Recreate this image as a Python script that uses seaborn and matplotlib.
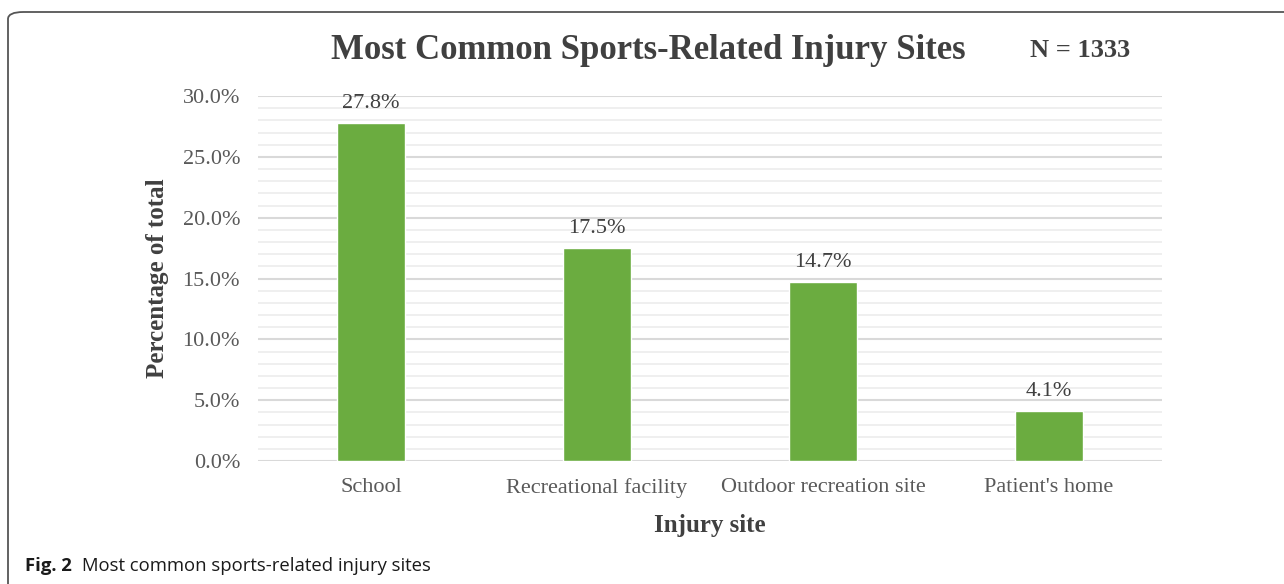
import numpy as np
import pandas as pd
import seaborn as sns
import matplotlib.pyplot as plt
from matplotlib.patches import FancyBboxPatch
from matplotlib.ticker import MultipleLocator, PercentFormatter

# Data ########################################################################
sites = ["School", "Recreational facility", "Outdoor recreation site", "Patient's home"]
pct = [27.8, 17.5, 14.7, 4.1]
yticks = [0, 5, 10, 15, 20, 25, 30]

df = pd.DataFrame({"site": sites, "pct": pct})

sns.set_theme(style="white")
plt.rcParams["font.family"] = ["Liberation Serif", "DejaVu Serif"]

fig = plt.figure(figsize=(12.84, 5.84), dpi=100)
ax = fig.add_axes([0.201, 0.2106, 0.704, 0.625])

sns.barplot(data=df, x="site", y="pct", color="#6BAC40", saturation=1,
            width=0.3, ax=ax, zorder=3)

# gridlines: major every 5%, minor every 1%
ax.set_ylim(0, 30)
ax.set_yticks(yticks)
ax.yaxis.set_minor_locator(MultipleLocator(1))
ax.yaxis.set_major_formatter(PercentFormatter(decimals=1))
ax.grid(axis="y", which="major", color="#d9d9d9", linewidth=1.5, zorder=0)
ax.grid(axis="y", which="minor", color="#ececec", linewidth=1.2, zorder=0)
ax.set_axisbelow(True)
for s in ax.spines.values():
    s.set_visible(False)
ax.tick_params(axis="both", which="both", length=0, labelsize=16,
               labelcolor="#595959")
ax.tick_params(axis="y", pad=13)
ax.tick_params(axis="x", pad=12)

for p, v in zip(ax.patches, pct):
    ax.text(p.get_x() + p.get_width() / 2, v + 0.8, f"{v}%",
            ha="center", va="bottom", fontsize=16, color="#404040")

ax.set_xlabel("Injury site", fontsize=18, fontweight="bold", color="#404040",
              labelpad=12)
ax.set_ylabel("Percentage of total", fontsize=18, fontweight="bold",
              color="#404040", labelpad=10)

fig.text(0.505, 0.914, "Most Common Sports-Related Injury Sites", ha="center",
         va="center", fontsize=25, fontweight="bold", color="#404040")
fig.text(0.802, 0.914, "N = 1333", ha="left", va="center", fontsize=19,
         fontweight="bold", color="#404040")

# frame and caption
frame = FancyBboxPatch((8 / 1284, -0.05), 1.2, 1 - 12 / 584 + 0.05,
                       boxstyle="round,pad=0,rounding_size=0.012",
                       transform=fig.transFigure, fill=False,
                       edgecolor="#555555", linewidth=1.3)
fig.patches.append(frame)
fig.text(25 / 1284, 1 - 566 / 584, "Fig. 2", ha="left", va="center",
         fontsize=13.3, fontweight="bold", color="#1a1a1a",
         family=["Open Sans", "DejaVu Sans"])
fig.text(82 / 1284, 1 - 566 / 584, "Most common sports-related injury sites",
         ha="left", va="center", fontsize=13.3, color="#1a1a1a",
         family=["Open Sans", "DejaVu Sans"])

fig.savefig("out.png", dpi=100)
